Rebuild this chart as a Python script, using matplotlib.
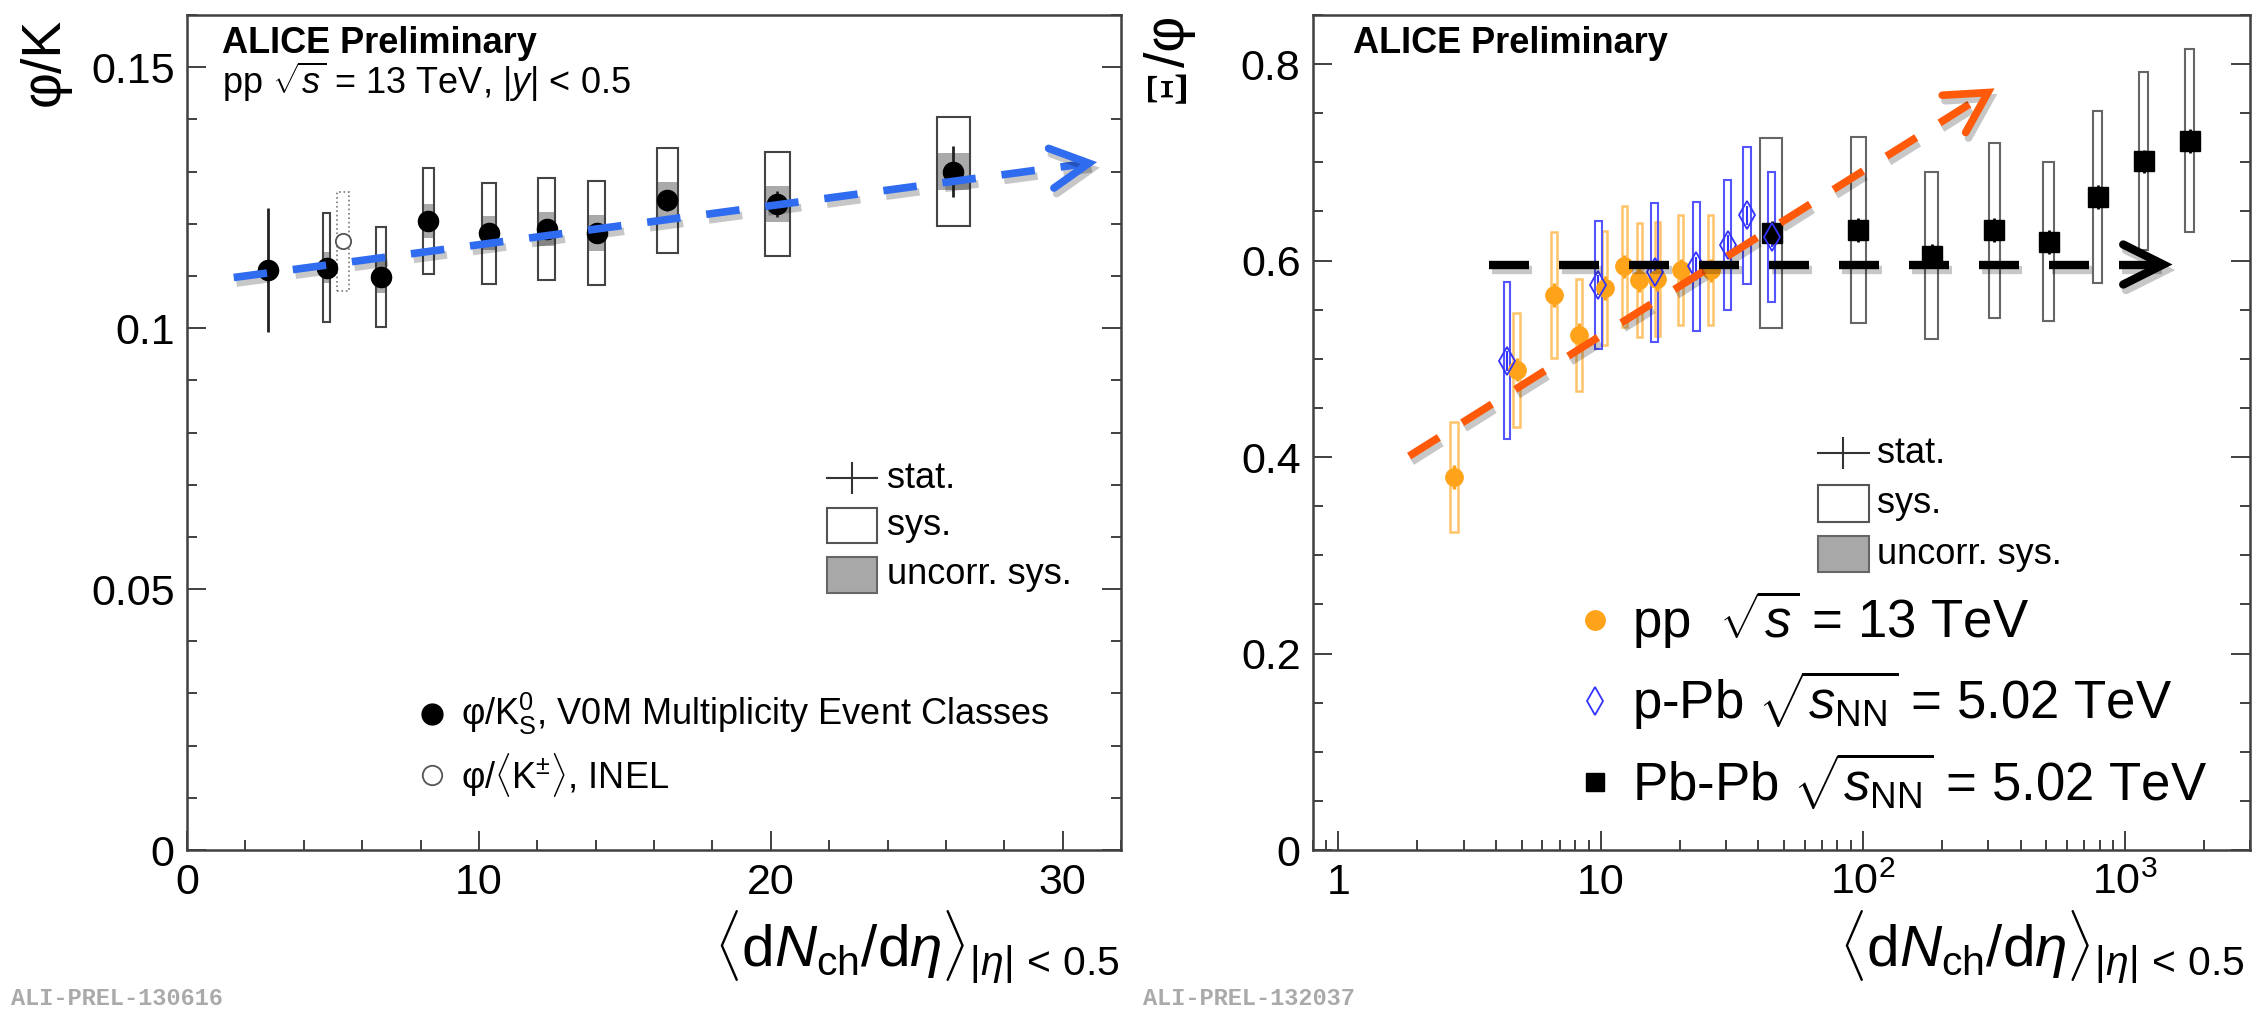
import matplotlib
matplotlib.use('Agg')
import matplotlib.pyplot as plt
import matplotlib.patheffects as pe
from matplotlib.patches import Rectangle
from matplotlib.ticker import MultipleLocator, LogLocator, NullFormatter, FormatStrFormatter
import numpy as np

plt.rcParams['font.family'] = ['Liberation Sans', 'DejaVu Sans']
plt.rcParams['mathtext.fontset'] = 'custom'
plt.rcParams['mathtext.rm'] = 'Liberation Sans'
plt.rcParams['mathtext.it'] = 'Liberation Sans:italic'
plt.rcParams['mathtext.bf'] = 'Liberation Sans:bold'

# pp 13 TeV, V0M multiplicity classes: <dNch/deta> and its half-width
mult_pp = [2.77, 4.78, 6.66, 8.27, 10.35, 12.33, 14.03, 16.46, 20.22, 26.26]
mult_pp_err = [0.10, 0.13, 0.17, 0.19, 0.24, 0.29, 0.30, 0.37, 0.43, 0.57]

# phi/K0S ratio
phi_k = [0.1111, 0.1116, 0.1098, 0.1205, 0.1182, 0.1190, 0.1182, 0.1245, 0.1238, 0.1300]
phi_k_stat = [0.0119, 0.0015, 0.0015, 0.0015, 0.0015, 0.0015, 0.0015, 0.0020, 0.0025, 0.0048]
phi_k_sys = [0.0, 0.0105, 0.0095, 0.0102, 0.0097, 0.0097, 0.0100, 0.0101, 0.0100, 0.0105]
phi_k_uncorr = [0.0, 0.0030, 0.0030, 0.0032, 0.0033, 0.0033, 0.0035, 0.0035, 0.0035, 0.0035]

# phi/<K+-> INEL
mult_inel = [5.35]
mult_inel_err = [0.21]
phi_k_inel = [0.1166]
phi_k_inel_sys = [0.0095]

# Xi/phi ratio
xi_phi_pp = [0.380, 0.489, 0.565, 0.524, 0.572, 0.594, 0.580, 0.581, 0.590, 0.590]
xi_phi_pp_stat = [0.012, 0.012, 0.012, 0.012, 0.012, 0.012, 0.012, 0.012, 0.012, 0.012]
xi_phi_pp_sys = [0.056, 0.058, 0.064, 0.057, 0.058, 0.062, 0.058, 0.058, 0.056, 0.056]

mult_ppb = [4.4, 9.8, 16.1, 23.2, 30.5, 36.2, 45.0]
mult_ppb_err = [0.13, 0.30, 0.50, 0.70, 0.95, 1.20, 1.40]
xi_phi_ppb = [0.498, 0.575, 0.588, 0.594, 0.616, 0.646, 0.624]
xi_phi_ppb_stat = [0.010, 0.010, 0.010, 0.010, 0.010, 0.010, 0.010]
xi_phi_ppb_sys = [0.080, 0.065, 0.071, 0.066, 0.066, 0.070, 0.066]

mult_pbpb = [44.9, 96.3, 183, 318, 512, 786, 1180, 1764]
mult_pbpb_err = [4.3, 6.4, 9.9, 16, 25, 31, 45, 66]
xi_phi_pbpb = [0.628, 0.631, 0.605, 0.631, 0.619, 0.665, 0.701, 0.722]
xi_phi_pbpb_stat = [0.012, 0.012, 0.012, 0.012, 0.012, 0.012, 0.012, 0.012]
xi_phi_pbpb_sys = [0.097, 0.095, 0.085, 0.089, 0.081, 0.0875, 0.0905, 0.093]

# trend arrows: (x0, y0) -> (x1, y1)
trend_phi_k = [(1.6, 0.1097), (30.9, 0.1316)]
trend_small = [(1.86, 0.401), (300, 0.771)]
trend_large = [(3.75, 0.596), (1400, 0.596)]

TICK_FS = 31
TEXT_FS = 26
BIG_FS = 38
AXIS_COLOR = '#404040'


def style_axes(ax):
    for sp in ax.spines.values():
        sp.set_color(AXIS_COLOR)
        sp.set_linewidth(1.8)
    ax.tick_params(which='both', direction='in', right=True, top=False,
                   color=AXIS_COLOR, width=1.4, labelsize=TICK_FS)
    ax.tick_params(which='major', length=14)
    ax.tick_params(which='minor', length=7)
    ax.tick_params(axis='y', pad=9)
    ax.tick_params(axis='x', pad=9)


def sys_boxes(ax, x, xerr, y, yerr, **kw):
    x = np.asarray(x, float)
    xerr = np.asarray(xerr, float)
    y = np.asarray(y, float)
    yerr = np.asarray(yerr, float)
    keep = yerr > 0
    ax.bar(x[keep] - xerr[keep], 2 * yerr[keep], width=2 * xerr[keep],
           bottom=y[keep] - yerr[keep], align='edge', **kw)


def dashed_arrow(ax, start, end, color, lw, dashes, head_len, head_half):
    shadow = [pe.SimpleLineShadow(offset=(2, -4), shadow_color='k', alpha=0.22),
              pe.Normal()]
    (x0, y0), (x1, y1) = start, end
    ax.plot([x0, x1], [y0, y1], color=color, lw=lw, dashes=dashes,
            solid_capstyle='butt', zorder=8, path_effects=shadow)
    to_px = ax.transData
    p0 = to_px.transform((x0, y0))
    p1 = to_px.transform((x1, y1))
    u = (p1 - p0) / np.hypot(*(p1 - p0))
    n = np.array([-u[1], u[0]])
    base = p1 - head_len * u
    pts = np.array([base + head_half * n, p1, base - head_half * n])
    head = to_px.inverted().transform(pts)
    ax.plot(head[:, 0], head[:, 1], color=color, lw=lw, solid_capstyle='round',
            solid_joinstyle='miter', zorder=8, path_effects=shadow)


def error_key(ax, cx, cy_stat, sys_span, uncorr_span, text_x):
    tr = ax.transAxes
    ax.plot([cx - 0.027, cx + 0.027], [cy_stat, cy_stat], color='#333333', lw=1.5, transform=tr)
    ax.plot([cx, cx], [cy_stat - 0.018, cy_stat + 0.018], color='#333333', lw=1.5, transform=tr)
    ax.add_patch(Rectangle((cx - 0.027, sys_span[0]), 0.054, sys_span[1] - sys_span[0],
                           transform=tr, fill=False, ec='#555555', lw=1.5))
    ax.add_patch(Rectangle((cx - 0.027, uncorr_span[0]), 0.054, uncorr_span[1] - uncorr_span[0],
                           transform=tr, fc='#a8a8a8', ec='#666666', lw=1.5))
    ax.text(text_x, cy_stat, 'stat.', fontsize=TEXT_FS, va='center', transform=tr)
    ax.text(text_x, sum(sys_span) / 2, 'sys.', fontsize=TEXT_FS, va='center', transform=tr)
    ax.text(text_x, sum(uncorr_span) / 2, 'uncorr. sys.', fontsize=TEXT_FS, va='center', transform=tr)


fig = plt.figure(figsize=(22.67, 10.11), dpi=100)
ax1 = fig.add_axes([0.0825, 0.1592, 0.412, 0.826])
ax2 = fig.add_axes([0.5792, 0.1592, 0.4133, 0.826])

# ---- left: phi/K ----
ax1.set_xlim(0, 32)
ax1.set_ylim(0, 0.16)
style_axes(ax1)
ax1.set_xticks([0, 10, 20, 30])
ax1.xaxis.set_minor_locator(MultipleLocator(2))
ax1.set_yticks([0, 0.05, 0.1, 0.15])
ax1.yaxis.set_minor_locator(MultipleLocator(0.01))
ax1.yaxis.set_major_formatter(FormatStrFormatter('%g'))

sys_boxes(ax1, mult_pp, mult_pp_err, phi_k, phi_k_uncorr, color='#aaaaaa', lw=0, zorder=2)
sys_boxes(ax1, mult_pp, mult_pp_err, phi_k, phi_k_sys, fill=False, ec='#444444', lw=1.5, zorder=3)
sys_boxes(ax1, mult_inel, mult_inel_err, phi_k_inel, phi_k_inel_sys, fill=False,
          ec='#777777', lw=1.2, ls=':', zorder=3)
ax1.errorbar(mult_pp, phi_k, yerr=phi_k_stat, fmt='none', ecolor='#222222', elinewidth=2, zorder=4)
ax1.plot(mult_pp, phi_k, 'o', color='black', ms=14.5, zorder=5)
ax1.plot(mult_inel, phi_k_inel, 'o', mfc='white', mec='#555555', mew=1.3, ms=11, zorder=5)

dashed_arrow(ax1, *trend_phi_k, color='#2f6cf0', lw=5.5, dashes=(4.4, 3.4),
             head_len=38, head_half=20)

ax1.text(0.037, 0.955, 'ALICE Preliminary', fontsize=TEXT_FS, weight='bold', transform=ax1.transAxes)
ax1.text(0.037, 0.905, r'pp $\sqrt{s}$ = 13 TeV, $|y|$ < 0.5', fontsize=TEXT_FS, transform=ax1.transAxes)
ax1.text(-0.152, 0.997, 'φ/K', rotation=90, ha='center', va='top', fontsize=40,
         transform=ax1.transAxes)
ax1.text(0.999, -0.14, r'$\langle\mathrm{d}N_{\mathrm{ch}}/\mathrm{d}\eta\rangle_{|\eta|\,<\,0.5}$',
         fontsize=42, ha='right', va='baseline', transform=ax1.transAxes)

error_key(ax1, 0.712, 0.445, (0.368, 0.409), (0.308, 0.351), 0.749)
ax1.plot([0.2625], [0.163], 'o', color='black', ms=15, transform=ax1.transAxes)
ax1.plot([0.2625], [0.090], 'o', mfc='white', mec='#555555', mew=1.3, ms=14, transform=ax1.transAxes)
ax1.text(0.293, 0.163, r'φ/K$^{0}_{\mathrm{S}}$, V0M Multiplicity Event Classes', fontsize=TEXT_FS,
         va='center', transform=ax1.transAxes)
ax1.text(0.293, 0.090, r'φ/$\langle\mathrm{K}^{\pm}\rangle$, INEL', fontsize=TEXT_FS, va='center',
         transform=ax1.transAxes)

# ---- right: Xi/phi ----
ax2.set_xscale('log')
ax2.set_xlim(0.8, 3000)
ax2.set_ylim(0, 0.85)
style_axes(ax2)
ax2.set_xticks([1, 10, 100, 1000])
ax2.set_xticklabels(['1', '10', r'$10^{2}$', r'$10^{3}$'])
ax2.xaxis.set_minor_locator(LogLocator(base=10, subs=np.arange(2, 10)))
ax2.xaxis.set_minor_formatter(NullFormatter())
ax2.set_yticks([0, 0.2, 0.4, 0.6, 0.8])
ax2.yaxis.set_minor_locator(MultipleLocator(0.05))
ax2.yaxis.set_major_formatter(FormatStrFormatter('%g'))

sys_boxes(ax2, mult_pbpb, mult_pbpb_err, xi_phi_pbpb, xi_phi_pbpb_sys, fill=False,
          ec='#666666', lw=1.5, zorder=3)
sys_boxes(ax2, mult_pp, mult_pp_err, xi_phi_pp, xi_phi_pp_sys, fill=False,
          ec='#ffc46b', lw=1.8, zorder=3)
sys_boxes(ax2, mult_ppb, mult_ppb_err, xi_phi_ppb, xi_phi_ppb_sys, fill=False,
          ec='#5555ff', lw=1.5, zorder=3)
ax2.errorbar(mult_pbpb, xi_phi_pbpb, yerr=xi_phi_pbpb_stat, fmt='none', ecolor='black', elinewidth=2, zorder=4)
ax2.errorbar(mult_pp, xi_phi_pp, yerr=xi_phi_pp_stat, fmt='none', ecolor='#ffa31a', elinewidth=2.5, zorder=4)
ax2.errorbar(mult_ppb, xi_phi_ppb, yerr=xi_phi_ppb_stat, fmt='none', ecolor='#3333ff', elinewidth=1.5, zorder=4)
ax2.plot(mult_pbpb, xi_phi_pbpb, 's', color='black', ms=15, zorder=5)
ax2.plot(mult_pp, xi_phi_pp, 'o', color='#ffa31a', ms=12.5, zorder=5)
ax2.plot(mult_ppb, xi_phi_ppb, 'd', mfc='none', mec='#3333ff', mew=1.3, ms=14, zorder=6)

dashed_arrow(ax2, *trend_small, color='#ff5a0a', lw=5.5, dashes=(4.6, 3.6),
             head_len=40, head_half=22)
dashed_arrow(ax2, *trend_large, color='black', lw=6, dashes=(4.8, 3.6),
             head_len=40, head_half=20)

ax2.text(0.043, 0.955, 'ALICE Preliminary', fontsize=TEXT_FS, weight='bold', transform=ax2.transAxes)
xi_lab = ax2.text(-0.153, 0.895, 'Ξ', family=['Liberation Serif'], rotation=90, ha='center',
                  va='bottom', fontsize=40, transform=ax2.transAxes)
ax2.annotate('/φ', xy=(0.5, 1.0), xycoords=xi_lab, rotation=90, ha='center', va='bottom',
             fontsize=40)
ax2.text(0.994, -0.14, r'$\langle\mathrm{d}N_{\mathrm{ch}}/\mathrm{d}\eta\rangle_{|\eta|\,<\,0.5}$',
         fontsize=42, ha='right', va='baseline', transform=ax2.transAxes)

error_key(ax2, 0.566, 0.475, (0.393, 0.437), (0.333, 0.376), 0.602)
ax2.plot([0.301], [0.275], 'o', color='#ffa31a', ms=14, transform=ax2.transAxes)
ax2.plot([0.301], [0.179], 'd', mfc='none', mec='#3333ff', mew=1.3, ms=14, transform=ax2.transAxes)
ax2.plot([0.301], [0.082], 's', color='black', ms=13, transform=ax2.transAxes)
ax2.text(0.340, 0.275, r'pp  $\sqrt{s}$ = 13 TeV', fontsize=BIG_FS, va='center', transform=ax2.transAxes)
ax2.text(0.340, 0.179, r'p-Pb $\sqrt{s_{\mathrm{NN}}}$ = 5.02 TeV', fontsize=BIG_FS, va='center',
         transform=ax2.transAxes)
ax2.text(0.340, 0.082, r'Pb-Pb $\sqrt{s_{\mathrm{NN}}}$ = 5.02 TeV', fontsize=BIG_FS, va='center',
         transform=ax2.transAxes)

fig.text(0.005, 0.006, 'ALI-PREL-130616', family='Liberation Mono', weight='bold',
         fontsize=17, color='#aaaaaa')
fig.text(0.504, 0.006, 'ALI-PREL-132037', family='Liberation Mono', weight='bold',
         fontsize=17, color='#aaaaaa')

fig.savefig('out.png', dpi=100)
